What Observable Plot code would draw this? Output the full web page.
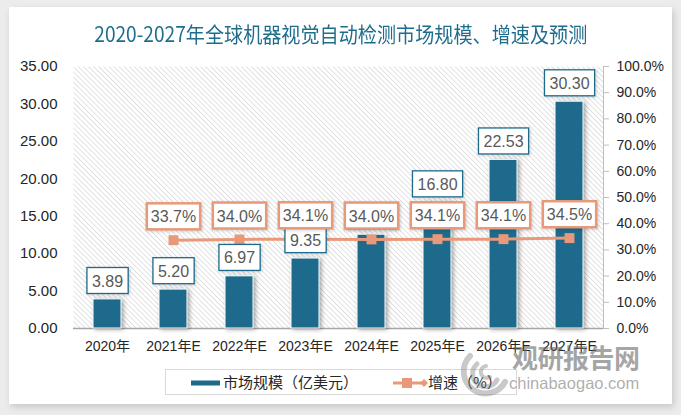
<!DOCTYPE html>
<html><head><meta charset="utf-8">
<script src="https://cdn.jsdelivr.net/npm/d3@7"></script>
<script src="https://cdn.jsdelivr.net/npm/@observablehq/plot@0.6"></script>
<style>
body{margin:0;background:#ececec;width:681px;height:415px;overflow:hidden;position:relative;font-family:"Liberation Sans",Arial,"Noto Sans CJK SC",sans-serif;}
#card{position:absolute;left:9px;top:7px;width:663px;height:397px;background:#fff;box-shadow:2px 3px 7px rgba(0,0,0,0.16);}
#title{position:absolute;left:0;top:21px;width:681px;text-align:center;white-space:nowrap;}
#tspan{display:inline-block;font-family:"Noto Sans CJK SC",sans-serif;font-size:21px;line-height:24px;color:#1f6d8d;transform-origin:50% 50%;}
#chart{position:absolute;left:0;top:50px;}
#chart svg{background:transparent;overflow:visible;}
g[aria-label="bar"] rect{filter:drop-shadow(2px 1px 2px rgba(0,0,0,0.35));}
.lbox{filter:drop-shadow(1px 1px 1.5px rgba(0,0,0,0.18));}
#legend{position:absolute;left:165px;top:369px;width:352px;height:26px;border:1px solid #d9d9d9;box-sizing:border-box;background:#fff;}
.ltext{position:absolute;top:0;line-height:24px;font-family:"Noto Sans CJK SC",sans-serif;font-size:15px;color:#262626;white-space:nowrap;}
#wm{position:absolute;left:0;top:0;pointer-events:none;}
.wm1{position:absolute;left:512px;top:340px;font-family:"Noto Sans CJK SC",sans-serif;font-weight:bold;font-size:26px;line-height:34px;color:rgba(105,105,105,0.6);letter-spacing:-0.5px;white-space:nowrap;}
.wm2{position:absolute;left:509px;top:374px;font-family:"Liberation Sans",Arial,sans-serif;font-size:16.5px;line-height:18px;color:rgba(105,105,105,0.55);white-space:nowrap;}
</style></head>
<body>
<div id="card"></div>
<div id="title"><span id="tspan">2020-2027年全球机器视觉自动检测市场规模、增速及预测</span></div>
<div id="chart"></div>
<div id="legend">
  <svg width="352" height="26" style="position:absolute;left:0;top:0">
    <rect x="25" y="10.5" width="29" height="5" fill="#1d6a8c"></rect>
    <line x1="227" x2="258" y1="13" y2="13" stroke="#e8997a" stroke-width="3"></line>
    <rect x="236" y="8" width="10" height="10" fill="#e8997a"></rect>
    <path d="M 258 9 L 262 13 L 258 17 L 254 13 Z" fill="#e8997a"></path>
  </svg>
  <div class="ltext" style="left:57px">市场规模（亿美元）</div>
  <div class="ltext" style="left:262px">增速（%）</div>
</div>
<svg id="wm" width="681" height="415">
  <g fill="none" stroke="rgba(120,120,120,0.4)" stroke-linecap="round">
    <path d="M 470 356 A 22 22 0 1 0 505 382" stroke-width="6"></path>
    <path d="M 477 364 A 13 13 0 1 0 497 380" stroke-width="5"></path>
    <path d="M 486 366 A 6 6 0 1 0 490 377" stroke-width="4"></path>
  </g>
</svg>
<div class="wm1">观研报告网</div>
<div class="wm2">chinabaogao.com</div>
<script>
const years = ["2020年","2021年E","2022年E","2023年E","2024年E","2025年E","2026年E","2027年E"];
const marketSize = [3.89, 5.20, 6.97, 9.35, 12.53, 16.80, 22.53, 30.30];
const growth = [null, 33.7, 34.0, 34.1, 34.0, 34.1, 34.1, 34.5];
const leftTicks = [0, 5, 10, 15, 20, 25, 30, 35];
const rightTicks = [0, 10, 20, 30, 40, 50, 60, 70, 80, 90, 100];

const yMax = 35, pMax = 100, k = yMax / pMax;
const barData = years.map((y, i) => ({year: y, value: marketSize[i]}));
const pctData = years.map((y, i) => ({year: y, pct: growth[i]})).filter(d => d.pct != null);

const BLUE = "#1d6a8c", ORANGE = "#e8997a", TXT = "#595959";

const plot = Plot.plot({
  width: 681, height: 320,
  marginLeft: 73, marginRight: 78, marginTop: 16, marginBottom: 42,
  style: {fontFamily: '"Liberation Sans", Arial, "Noto Sans CJK SC", sans-serif', background: "transparent"},
  x: {type: "band", domain: years, paddingInner: 0.58, paddingOuter: 0.29, label: null},
  y: {domain: [0, yMax], label: null},
  marks: [
    Plot.frame({fill: "url(#hatch)", stroke: "none"}),
    Plot.axisY({ticks: leftTicks, tickSize: 0, tickPadding: 16, tickFormat: d => d.toFixed(2), fontSize: 15, fill: "#262626", label: null}),
    Plot.axisY({ticks: rightTicks.map(p => p * k), anchor: "right", tickSize: 5, tickPadding: 8, stroke: "#bfbfbf",
      tickFormat: v => (v / k).toFixed(1) + "%", fontSize: 14, fill: "#262626", label: null}),
    Plot.frame({anchor: "right", stroke: "#bfbfbf"}),
    Plot.axisX({tickSize: 0, tickPadding: 13, fontSize: 14, fill: "#262626", label: null}),
    Plot.ruleY([0], {stroke: "#a6a6a6", strokeWidth: 1.3}),
    Plot.barY(barData, {x: "year", y: "value", fill: BLUE, stroke: "white", strokeWidth: 1}),
    Plot.line(pctData, {x: "year", y: d => d.pct * k, stroke: ORANGE, strokeWidth: 3}),
    Plot.dot(pctData, {x: "year", y: d => d.pct * k, symbol: "square", r: 5.6, fill: ORANGE, stroke: "none"}),
    Plot.text(barData, {x: "year", y: "value", text: d => d.value.toFixed(2), dy: -18, fontSize: 16, fill: TXT}),
    Plot.text(pctData, {x: "year", y: d => d.pct * k, text: d => d.pct.toFixed(1) + "%", dy: -23, fontSize: 16, fill: TXT})
  ]
});
plot.insertAdjacentHTML("afterbegin",
  `<defs><pattern id="hatch" patternUnits="userSpaceOnUse" width="3.6" height="3.6" patternTransform="rotate(-45)">
     <rect width="3.6" height="3.6" fill="#ffffff"></rect>
     <line x1="0" y1="0" x2="0" y2="3.6" stroke="#d2d2d2" stroke-width="1.3"></line>
   </pattern></defs>`);
document.getElementById("chart").appendChild(plot);

function boxes(g, stroke, sw, padX, h) {
  if (!g) return;
  g.querySelectorAll("text").forEach(t => {
    const b = t.getBBox();
    const r = document.createElementNS("http://www.w3.org/2000/svg", "rect");
    const cy = b.y + b.height / 2 - 0.5;
    r.setAttribute("x", b.x - padX);
    r.setAttribute("y", cy - h / 2);
    r.setAttribute("width", b.width + 2 * padX);
    r.setAttribute("height", h);
    r.setAttribute("fill", "white");
    r.setAttribute("stroke", stroke);
    r.setAttribute("stroke-width", sw);
    r.setAttribute("class", "lbox");
    if (t.getAttribute("transform")) r.setAttribute("transform", t.getAttribute("transform"));
    t.parentNode.insertBefore(r, t);
  });
}
const textGroups = plot.querySelectorAll('g[aria-label="text"]');
boxes(textGroups[0], BLUE, 1.3, 5, 26);
boxes(textGroups[1], ORANGE, 2.5, 4, 26);

const ts = document.getElementById("tspan");
const w = ts.getBoundingClientRect().width;
ts.style.transform = `scaleX(${493 / w})`;
</script>
</body></html>
